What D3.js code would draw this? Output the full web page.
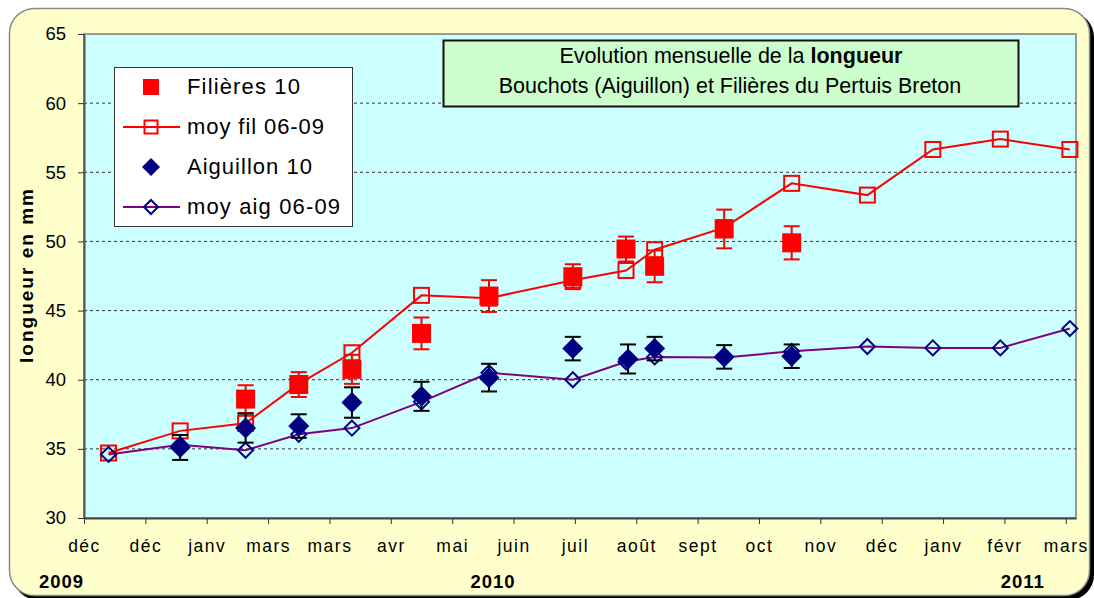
<!DOCTYPE html>
<html>
<head>
<meta charset="utf-8">
<script src="https://cdn.jsdelivr.net/npm/d3@7"></script>
<style>
  body { margin: 0; background: #fff; }
  text { font-family: "Liberation Sans", Arial, sans-serif; }
</style>
</head>
<body>
<script>
// dates of the monthly averages 2006-2009
var avgDates = ["2009-12-13", "2010-01-17", "2010-02-18", "2010-03-16", "2010-04-11",
  "2010-05-15", "2010-06-17", "2010-07-28", "2010-08-23", "2010-09-06", "2010-10-10",
  "2010-11-12", "2010-12-19", "2011-01-20", "2011-02-22", "2011-03-28"];
var moyFil = [34.7, 36.3, 36.85, 39.7, 41.95, 46.1, 45.9, 47.2, 47.9, 49.4, 51.0,
  54.2, 53.35, 56.65, 57.4, 56.65];
var moyAig = [34.6, 35.3, 34.9, 36.05, 36.5, 38.4, 40.5, 40.0, 41.3, 41.65, 41.6,
  42.05, 42.4, 42.3, 42.3, 43.7];

// Filieres 2010 samples
var filDates = ["2010-02-18", "2010-03-16", "2010-04-11", "2010-05-15", "2010-06-17",
  "2010-07-28", "2010-08-23", "2010-09-06", "2010-10-10", "2010-11-12"];
var filVals = [38.6, 39.65, 40.75, 43.35, 46.05, 47.45, 49.45, 48.2, 50.9, 49.9];
var filErr = [1.0, 0.9, 1.05, 1.15, 1.15, 0.9, 0.9, 1.15, 1.4, 1.2];

// Aiguillon 2010 samples
var aigDates = ["2010-01-17", "2010-02-18", "2010-03-16", "2010-04-11", "2010-05-15",
  "2010-06-17", "2010-07-28", "2010-08-24", "2010-09-06", "2010-10-10", "2010-11-12"];
var aigVals = [35.1, 36.5, 36.65, 38.35, 38.8, 40.15, 42.25, 41.5, 42.25, 41.65, 41.7];
var aigErr = [0.9, 1.05, 0.85, 1.1, 1.05, 1.0, 0.85, 1.05, 0.85, 0.85, 0.85];

// axis
var tickLabels = ["déc", "déc", "janv", "mars", "mars", "avr", "mai", "juin", "juil",
  "août", "sept", "oct", "nov", "déc", "janv", "févr", "mars"];
var yTicks = [30, 35, 40, 45, 50, 55, 60, 65];
var yearLabels = ["2009", "2010", "2011"];
var yearDates = ["2009-11-20", "2010-06-19", "2011-03-05"];

var legendNames = ["Filières 10", "moy fil 06-09", "Aiguillon 10", "moy aig 06-09"];

var parse = d3.utcParse("%Y-%m-%d");

var W = 1094, H = 598;
var plot = { left: 84, right: 1076, top: 34, bottom: 518 };

var svg = d3.select("body").append("svg")
    .attr("width", W)
    .attr("height", H);

// outer rounded frame with shadow
svg.append("rect")
    .attr("x", 13).attr("y", 12)
    .attr("width", 1081).attr("height", 588)
    .attr("rx", 25)
    .attr("fill", "#000");
svg.append("rect")
    .attr("x", 9.5).attr("y", 8.5)
    .attr("width", 1080).attr("height", 587)
    .attr("rx", 25)
    .attr("fill", "#FFFFCC")
    .attr("stroke", "#8a8a8a")
    .attr("stroke-width", 1.5);

var x = d3.scaleUtc()
    .domain([Date.UTC(2009, 11, 1), Date.UTC(2011, 2, 31)])
    .range([plot.left, plot.right]);
var y = d3.scaleLinear()
    .domain([30, 65])
    .range([plot.bottom, plot.top]);

// plot area
svg.append("rect")
    .attr("x", plot.left).attr("y", plot.top)
    .attr("width", plot.right - plot.left).attr("height", plot.bottom - plot.top)
    .attr("fill", "#CCFFFF")
    .attr("stroke", "#999")
    .attr("stroke-width", 2);

// gridlines
svg.append("g").selectAll("line")
  .data(yTicks.filter(function(d) { return d > 30 && d < 65; }))
  .enter().append("line")
    .attr("x1", plot.left).attr("x2", plot.right)
    .attr("y1", function(d) { return y(d); })
    .attr("y2", function(d) { return y(d); })
    .attr("stroke", "#333")
    .attr("stroke-width", 1)
    .attr("stroke-dasharray", "3,3");

// y axis
var yAxis = svg.append("g")
    .attr("transform", "translate(" + plot.left + ",0)")
    .call(d3.axisLeft(y).tickValues(yTicks).tickSize(6).tickPadding(12).tickSizeOuter(0));
yAxis.select(".domain").attr("stroke", "#555").attr("stroke-width", 2);
yAxis.selectAll(".tick line").attr("stroke", "#333");
yAxis.selectAll(".tick text")
    .attr("font-size", "18.5px")
    .attr("fill", "#000")
    .attr("font-family", "Liberation Sans, Arial, sans-serif");

// x axis, ticks every 30 days
var xTicks = d3.utcDay.range(Date.UTC(2009, 11, 1), Date.UTC(2011, 2, 28), 30);
var xAxis = svg.append("g")
    .attr("transform", "translate(0," + plot.bottom + ")")
    .call(d3.axisBottom(x).tickValues(xTicks).tickSize(6).tickSizeOuter(0)
      .tickFormat(function(d, i) { return tickLabels[i]; }));
xAxis.select(".domain").attr("stroke", "#444").attr("stroke-width", 2);
xAxis.selectAll(".tick line").attr("stroke", "#333");
xAxis.selectAll(".tick text")
    .attr("y", 34).attr("dy", 0)
    .attr("font-size", "17.5px")
    .attr("letter-spacing", "1.5px")
    .attr("fill", "#000")
    .attr("font-family", "Liberation Sans, Arial, sans-serif");

// year labels
svg.append("g").selectAll("text")
  .data(yearLabels)
  .enter().append("text")
    .attr("x", function(d, i) { return x(parse(yearDates[i])); })
    .attr("y", 588)
    .attr("text-anchor", "middle")
    .attr("font-size", "18.5px")
    .attr("font-weight", "bold")
    .attr("letter-spacing", "1px")
    .text(function(d) { return d; });

// y title
svg.append("text")
    .attr("transform", "translate(33," + ((plot.top + plot.bottom) / 2) + ") rotate(-90)")
    .attr("text-anchor", "middle")
    .attr("font-size", "19px")
    .attr("font-weight", "bold")
    .attr("textLength", 174)
    .attr("lengthAdjust", "spacing")
    .text("longueur en mm");

function diamond(cx, cy, r) {
  return "M" + cx + "," + (cy - r) + "L" + (cx + r) + "," + cy +
    "L" + cx + "," + (cy + r) + "L" + (cx - r) + "," + cy + "Z";
}

var avg = avgDates.map(function(d, i) {
  return { date: parse(d), fil: moyFil[i], aig: moyAig[i] };
});
var fil = filDates.map(function(d, i) {
  return { date: parse(d), v: filVals[i], e: filErr[i] };
});
var aig = aigDates.map(function(d, i) {
  return { date: parse(d), v: aigVals[i], e: aigErr[i] };
});

// moy fil 06-09
svg.append("path")
    .datum(avg)
    .attr("fill", "none")
    .attr("stroke", "#FF0000")
    .attr("stroke-width", 2)
    .attr("d", d3.line().x(function(d) { return x(d.date); }).y(function(d) { return y(d.fil); }));
svg.append("g").selectAll("rect")
  .data(avg)
  .enter().append("rect")
    .attr("x", function(d) { return x(d.date) - 7.5; })
    .attr("y", function(d) { return y(d.fil) - 7.5; })
    .attr("width", 15).attr("height", 15)
    .attr("fill", "none")
    .attr("stroke", "#FF0000")
    .attr("stroke-width", 2);

// moy aig 06-09
svg.append("path")
    .datum(avg)
    .attr("fill", "none")
    .attr("stroke", "#800080")
    .attr("stroke-width", 2)
    .attr("d", d3.line().x(function(d) { return x(d.date); }).y(function(d) { return y(d.aig); }));
svg.append("g").selectAll("path")
  .data(avg)
  .enter().append("path")
    .attr("d", function(d) { return diamond(x(d.date), y(d.aig), 7.5); })
    .attr("fill", "none")
    .attr("stroke", "#000080")
    .attr("stroke-width", 2);

// error bars helper
function errorBars(data, color) {
  var g = svg.append("g")
      .attr("stroke", color)
      .attr("stroke-width", 2);
  g.selectAll("line.stem").data(data).enter().append("line")
      .attr("x1", function(d) { return x(d.date); })
      .attr("x2", function(d) { return x(d.date); })
      .attr("y1", function(d) { return y(d.v - d.e); })
      .attr("y2", function(d) { return y(d.v + d.e); });
  [-1, 1].forEach(function(s) {
    g.selectAll("line.cap" + s).data(data).enter().append("line")
        .attr("x1", function(d) { return x(d.date) - 8; })
        .attr("x2", function(d) { return x(d.date) + 8; })
        .attr("y1", function(d) { return y(d.v + s * d.e); })
        .attr("y2", function(d) { return y(d.v + s * d.e); });
  });
}

// Filieres 10
errorBars(fil, "#FF0000");
svg.append("g").selectAll("rect")
  .data(fil)
  .enter().append("rect")
    .attr("x", function(d) { return x(d.date) - 9.5; })
    .attr("y", function(d) { return y(d.v) - 9.5; })
    .attr("width", 19).attr("height", 19)
    .attr("fill", "#FF0000");

// Aiguillon 10
errorBars(aig, "#000");
svg.append("g").selectAll("path")
  .data(aig)
  .enter().append("path")
    .attr("d", function(d) { return diamond(x(d.date), y(d.v), 10.5); })
    .attr("fill", "#000080");

// legend
var lg = svg.append("g");
lg.append("rect")
    .attr("x", 114.5).attr("y", 67.5)
    .attr("width", 238).attr("height", 159)
    .attr("fill", "#fff")
    .attr("stroke", "#333")
    .attr("stroke-width", 1);
var legLengths = [113, 137, 125, 153];
lg.selectAll("text.leg")
  .data(legendNames)
  .enter().append("text")
    .attr("x", 187)
    .attr("y", function(d, i) { return 94 + i * 40; })
    .attr("font-size", "22px")
    .attr("textLength", function(d, i) { return legLengths[i]; })
    .attr("lengthAdjust", "spacing")
    .text(function(d) { return d; });
lg.append("rect")
    .attr("x", 143).attr("y", 79).attr("width", 16).attr("height", 16)
    .attr("fill", "#FF0000");
lg.append("line")
    .attr("x1", 123).attr("x2", 180).attr("y1", 127).attr("y2", 127)
    .attr("stroke", "#FF0000").attr("stroke-width", 2);
lg.append("rect")
    .attr("x", 144.5).attr("y", 120.5).attr("width", 13).attr("height", 13)
    .attr("fill", "none").attr("stroke", "#FF0000").attr("stroke-width", 2);
lg.append("path")
    .attr("d", diamond(151, 167, 9))
    .attr("fill", "#000080");
lg.append("line")
    .attr("x1", 123).attr("x2", 180).attr("y1", 207).attr("y2", 207)
    .attr("stroke", "#800080").attr("stroke-width", 2);
lg.append("path")
    .attr("d", diamond(151, 207, 7))
    .attr("fill", "none").attr("stroke", "#000080").attr("stroke-width", 2);

// title box
var tb = svg.append("g");
tb.append("rect")
    .attr("x", 443.5).attr("y", 40.5)
    .attr("width", 575).attr("height", 66)
    .attr("fill", "#CCFFCC")
    .attr("stroke", "#111")
    .attr("stroke-width", 2);
var t1 = tb.append("text")
    .attr("x", 731).attr("y", 63)
    .attr("text-anchor", "middle")
    .attr("font-size", "21.5px");
t1.append("tspan").text("Evolution mensuelle de la ");
t1.append("tspan").attr("font-weight", "bold").text("longueur");
tb.append("text")
    .attr("x", 730).attr("y", 92.5)
    .attr("text-anchor", "middle")
    .attr("font-size", "21.5px")
    .text("Bouchots (Aiguillon) et Filières du Pertuis Breton");
</script>
</body>
</html>
